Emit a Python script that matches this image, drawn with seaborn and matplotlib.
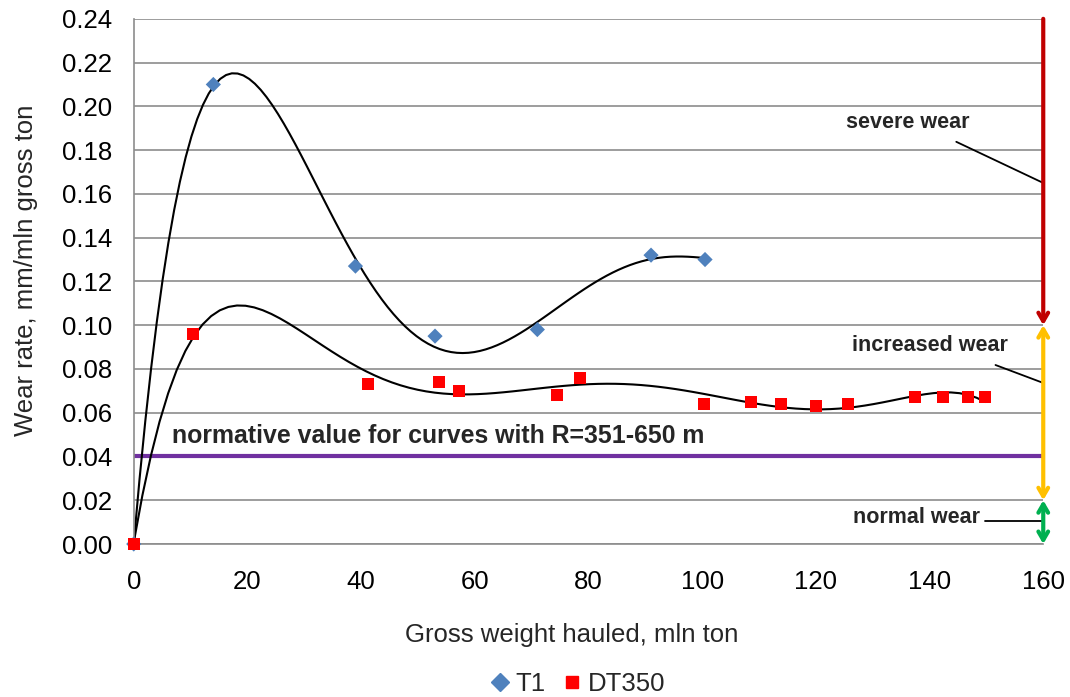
import numpy as np
import pandas as pd
import seaborn as sns
import matplotlib.pyplot as plt
from matplotlib.lines import Line2D

# T1 measurements
t1_x = [0, 14, 39, 53, 71, 91, 100.5]
t1_y = [0.0, 0.210, 0.127, 0.095, 0.098, 0.132, 0.130]

# DT350 measurements
dt_x = [0, 10.4, 41.2, 53.7, 57.2, 74.5, 78.5, 100.4, 108.6, 113.9, 120, 125.7,
        137.5, 142.3, 146.8, 149.8]
dt_y = [0.0, 0.096, 0.073, 0.074, 0.070, 0.068, 0.076, 0.064, 0.065, 0.064, 0.063,
        0.064, 0.067, 0.067, 0.067, 0.067]

normative = 0.04
zone_limits = [0.0, 0.02, 0.10, 0.24]

t1 = pd.DataFrame({"x": t1_x, "y": t1_y})
dt = pd.DataFrame({"x": dt_x, "y": dt_y})

sns.set_style("white")
plt.rcParams["font.family"] = ["Liberation Sans", "DejaVu Sans"]

fig, ax = plt.subplots(figsize=(10.7, 6.97), dpi=100)
fig.subplots_adjust(left=0.125, right=0.975, top=0.973, bottom=0.2195)

ax.set_xlim(0, 160)
ax.set_ylim(0, 0.24)
ax.set_xticks(np.arange(0, 161, 20))
ax.set_yticks(np.arange(0, 0.241, 0.02))
ax.set_yticklabels([f"{v:.2f}" for v in np.arange(0, 0.241, 0.02)])
ax.yaxis.grid(True, color="#8c8c8c", linewidth=1.2)
ax.set_axisbelow(True)
for s in ["top", "right"]:
    ax.spines[s].set_visible(False)
for s in ["left", "bottom"]:
    ax.spines[s].set_color("#8c8c8c")
    ax.spines[s].set_linewidth(1.2)
ax.tick_params(axis="both", labelsize=18.5, colors="#8c8c8c", labelcolor="black",
               length=6.5, width=1.2, direction="out")
ax.tick_params(axis="x", pad=12)
ax.tick_params(axis="y", pad=9)

# normative value
ax.axhline(normative, color="#7030A0", linewidth=3, zorder=2)
ax.text(6.7, 0.0492, "normative value for curves with R=351-650 m", fontsize=17.9,
        fontweight="bold", va="center", ha="left")

# trend curves
sns.regplot(data=t1, x="x", y="y", order=5, ci=None, scatter=False, ax=ax,
            line_kws={"color": "black", "linewidth": 1.5})
sns.regplot(data=dt, x="x", y="y", order=6, ci=None, scatter=False, ax=ax,
            line_kws={"color": "black", "linewidth": 1.5})

sns.scatterplot(data=t1, x="x", y="y", marker="D", color="#4F81BD", s=60,
                edgecolor="none", ax=ax, zorder=4, clip_on=False)
sns.scatterplot(data=dt, x="x", y="y", marker="s", color="#FF0000", s=75,
                edgecolor="none", ax=ax, zorder=4, clip_on=False)

ax.set_xlabel("Gross weight hauled, mln ton", fontsize=18.5, labelpad=21)
ax.set_ylabel("Wear rate, mm/mln gross ton", fontsize=18.5, labelpad=17)
ax.xaxis.label.set_x(0.482)
ax.yaxis.label.set_y(0.522)

# wear zones arrows
ax.annotate("", xy=(160, zone_limits[2]), xytext=(160, zone_limits[3]),
            arrowprops=dict(arrowstyle="->,head_length=0.6,head_width=0.35",
                            color="#C00000", lw=3, shrinkA=0, shrinkB=0))
ax.annotate("", xy=(160, zone_limits[1]), xytext=(160, zone_limits[2]),
            arrowprops=dict(arrowstyle="<->,head_length=0.6,head_width=0.35",
                            color="#FFC000", lw=3, shrinkA=0, shrinkB=0))
ax.annotate("", xy=(160, zone_limits[0]), xytext=(160, zone_limits[1]),
            arrowprops=dict(arrowstyle="<->,head_length=0.6,head_width=0.35",
                            color="#00B050", lw=3, shrinkA=0, shrinkB=0))

labels = [("severe wear", 136.2, 0.1928, (144.7, 0.1838), (160, 0.165)),
          ("increased wear", 140.1, 0.0905, (151.6, 0.0818), (160, 0.0736)),
          ("normal wear", 137.7, 0.0122, (149.8, 0.0105), (160, 0.0105))]
for txt, tx, ty, p0, p1 in labels:
    ax.text(tx, ty, txt, fontsize=15.5, fontweight="bold", ha="center", va="center")
    ax.plot([p0[0], p1[0]], [p0[1], p1[1]], color="black", linewidth=1.3, clip_on=False)

handles = [Line2D([], [], marker="D", color="#4F81BD", linestyle="none", markersize=9),
           Line2D([], [], marker="s", color="#FF0000", linestyle="none", markersize=8)]
fig.legend(handles, ["T1", "DT350"], loc="center", ncol=2, frameon=False,
           fontsize=18.5, bbox_to_anchor=(0.54, 0.018), handlelength=0.7,
           handletextpad=0.25, columnspacing=0.7)

fig.savefig("out.png", dpi=100)
